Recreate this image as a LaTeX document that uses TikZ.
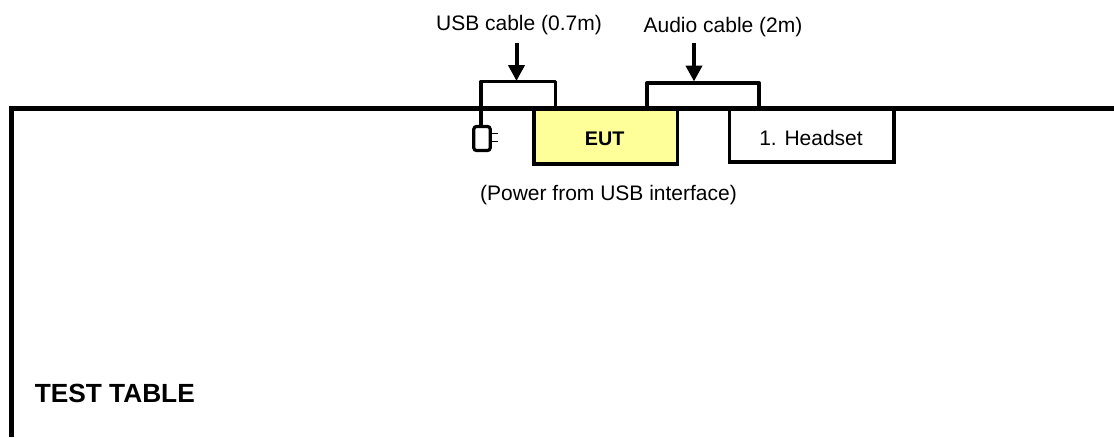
\documentclass[tikz,border=0pt]{standalone}
\usepackage{fontspec}
\setmainfont{Liberation Sans}
\usetikzlibrary{arrows.meta}
\definecolor{eutyellow}{HTML}{FFFF99}
\tikzset{
  x=0.75pt,y=-0.75pt,
  tableline/.style={line width=3.9pt,line cap=butt},
  cable/.style={line width=2.5pt,line join=round},
  devbox/.style={draw=black,line width=2.8pt,inner sep=0pt,anchor=north west},
  lbl/.style={inner sep=0pt,font=\fontsize{15.75pt}{18pt}\selectfont},
  pointer/.style={line width=3pt,-{Triangle[length=12pt,width=12pt]}},
  plugbody/.style={draw=black,line width=2.4pt,rounded corners=2pt,inner sep=0pt,minimum width=12.3pt,minimum height=18pt},
  prong/.style={line width=1.3pt}
}
\begin{document}
\begin{tikzpicture}
\useasboundingbox (0,0) rectangle (1114,437);
% table edge
\coordinate (tl) at (11.5,108.5);
\coordinate (bl) at (11.5,437);
\coordinate (tr) at (1114,108.5);
% devices
\node[devbox,fill=eutyellow,minimum width=107.8pt,minimum height=41.3pt] (eut) at (532,107) {};
\node[font=\fontsize{14.8pt}{18pt}\selectfont\bfseries,inner sep=0pt] (euttxt) at (604.7,139) {EUT};
\node[devbox,minimum width=123.6pt,minimum height=39.8pt] (head) at (727.5,107) {};
\node[lbl] (headtxt) at (811,137.5) {1. Headset};
\draw[tableline,line join=miter] (bl) -- (tl) -- (tr);
% plug
\node[plugbody] (plug) at (482,138.5) {};
\coordinate (pa) at (491,133.5);
\coordinate (pb) at (498,133.5);
\coordinate (pc) at (491,141.5);
\coordinate (pd) at (498,141.5);
\draw[prong] (pa) -- (pb);
\draw[prong] (pc) -- (pd);
% USB cable
\coordinate (ua) at (481,108.5);
\coordinate (ub) at (481,81.5);
\coordinate (uc) at (555.5,81.5);
\coordinate (ud) at (555.5,108.5);
\draw[cable] (plug.north -| ua) -- (ua) -- (ub) -- (uc) -- (ud);
% Audio cable
\coordinate (aa) at (647,108.5);
\coordinate (ab) at (647,83);
\coordinate (ac) at (759,83);
\coordinate (ad) at (759,108.5);
\draw[cable] (aa) -- (ab) -- (ac) -- (ad);
% labels and pointers
\node[lbl] (usbl) at (519,25.5) {USB cable (0.7m)};
\node[lbl] (audl) at (723,27.5) {Audio cable (2m)};
\coordinate (us) at (516.5,43);
\coordinate (ut) at (516.5,81);
\coordinate (as) at (694,43);
\coordinate (at1) at (694,81.5);
\draw[pointer] (us) -- (ut);
\draw[pointer] (as) -- (at1);
\node[lbl] (pow) at (608.5,195.5) {(Power from USB interface)};
\node[inner sep=0pt,anchor=west,font=\fontsize{19.7pt}{22pt}\selectfont\bfseries] (tt) at (34.5,393.5) {TEST TABLE};
\end{tikzpicture}
\end{document}
